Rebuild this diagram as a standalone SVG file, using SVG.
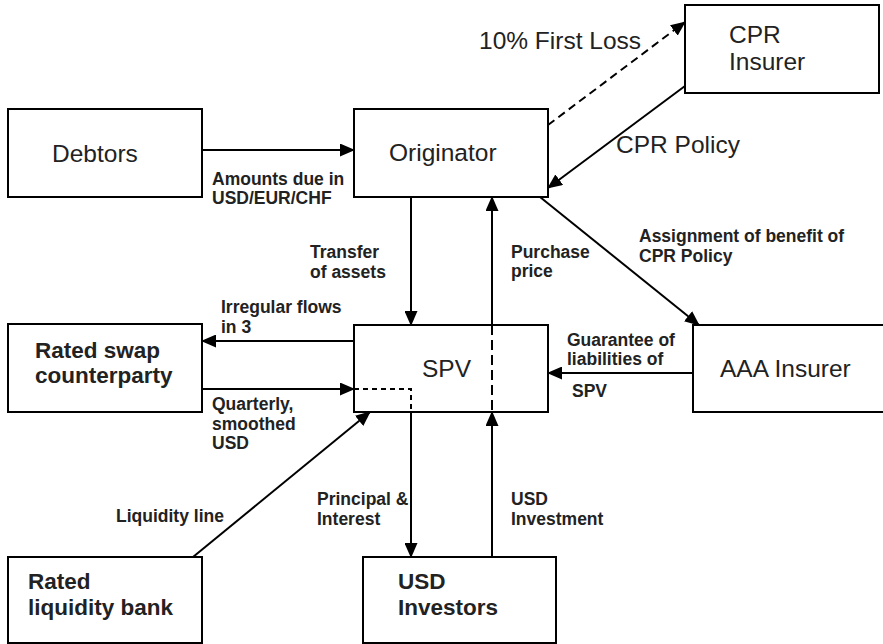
<svg xmlns="http://www.w3.org/2000/svg" width="883" height="644" viewBox="0 0 883 644">
<defs>
<marker id="ah" markerUnits="userSpaceOnUse" markerWidth="15" markerHeight="13" refX="14" refY="6.5" orient="auto">
<path d="M0,0 L15,6.5 L0,13 z" fill="#000"/>
</marker>
<style>
.box{fill:#fff;stroke:#000;stroke-width:2}
.c{fill:none;stroke:#000;stroke-width:2}
.d{fill:none;stroke:#000;stroke-width:2;stroke-dasharray:8 5}
.t{font-family:"Liberation Sans",Arial,sans-serif;font-size:24.5px;fill:#222}
.b{font-family:"Liberation Sans",Arial,sans-serif;font-size:17.5px;font-weight:bold;fill:#222}
.nb{font-family:"Liberation Sans",Arial,sans-serif;font-size:22.5px;font-weight:bold;fill:#222}
</style>
</defs>
<rect width="883" height="644" fill="#fff"/>
<g id="connectors">
<line class="c" x1="202" y1="150" x2="354" y2="150" marker-end="url(#ah)"/>
<line class="d" x1="548" y1="125" x2="685" y2="22" marker-end="url(#ah)"/>
<line class="c" x1="685" y1="86" x2="548" y2="188" marker-end="url(#ah)"/>
<line class="c" x1="411" y1="197" x2="411" y2="325" marker-end="url(#ah)"/>
<line class="c" x1="492" y1="325" x2="492" y2="197" marker-end="url(#ah)"/>
<line class="c" x1="540" y1="197" x2="699" y2="325" marker-end="url(#ah)"/>
<line class="c" x1="354" y1="341" x2="202" y2="341" marker-end="url(#ah)"/>
<line class="c" x1="202" y1="389" x2="354" y2="389" marker-end="url(#ah)"/>
<line class="c" x1="693" y1="373" x2="548" y2="373" marker-end="url(#ah)"/>
<line class="c" x1="193" y1="557" x2="370" y2="412" marker-end="url(#ah)"/>
<line class="c" x1="411" y1="412" x2="411" y2="557" marker-end="url(#ah)"/>
<line class="c" x1="492" y1="557" x2="492" y2="412" marker-end="url(#ah)"/>
</g>
<g id="debtors">
<rect class="box" x="8" y="109" width="194" height="88"/>
<text class="t" x="52" y="162">Debtors</text>
</g>
<g id="originator">
<rect class="box" x="354" y="109" width="194" height="88"/>
<text class="t" x="389" y="161">Originator</text>
</g>
<g id="cpr-insurer">
<rect class="box" x="685" y="5" width="194" height="88"/>
<text class="t" x="729" y="43">CPR</text>
<text class="t" x="729" y="70">Insurer</text>
</g>
<g id="spv">
<rect class="box" x="354" y="325" width="194" height="87"/>
<text class="t" x="422" y="377">SPV</text>
<path d="M354,389 H411 V412" fill="none" stroke="#000" stroke-width="2" stroke-dasharray="5 4"/>
<line x1="492" y1="325" x2="492" y2="412" stroke="#000" stroke-width="2" stroke-dasharray="10 5"/>
</g>
<g id="swap">
<rect class="box" x="8" y="324" width="194" height="88"/>
<text class="nb" x="35" y="358">Rated swap</text>
<text class="nb" x="35" y="383">counterparty</text>
</g>
<g id="aaa">
<rect class="box" x="693" y="325" width="220" height="87"/>
<text class="t" x="720" y="377">AAA Insurer</text>
</g>
<g id="liquidity-bank">
<rect class="box" x="8" y="557" width="194" height="86"/>
<text class="nb" x="28" y="589">Rated</text>
<text class="nb" x="28" y="615">liquidity bank</text>
</g>
<g id="usd-investors">
<rect class="box" x="363" y="557" width="193" height="86"/>
<text class="nb" x="398" y="589">USD</text>
<text class="nb" x="398" y="615">Investors</text>
</g>
<g id="labels">
<text class="t" x="479" y="49">10% First Loss</text>
<text class="t" x="616" y="153">CPR Policy</text>
<text class="b" x="212" y="185">Amounts due in</text>
<text class="b" x="212" y="204">USD/EUR/CHF</text>
<text class="b" x="310" y="258">Transfer</text>
<text class="b" x="310" y="278">of assets</text>
<text class="b" x="511" y="258">Purchase</text>
<text class="b" x="511" y="277">price</text>
<text class="b" x="639" y="242">Assignment of benefit of</text>
<text class="b" x="639" y="262">CPR Policy</text>
<text class="b" x="221" y="313">Irregular flows</text>
<text class="b" x="221" y="333">in 3</text>
<text class="b" x="567" y="346">Guarantee of</text>
<text class="b" x="567" y="365">liabilities of</text>
<text class="b" x="572" y="397">SPV</text>
<text class="b" x="212" y="410">Quarterly,</text>
<text class="b" x="212" y="430">smoothed</text>
<text class="b" x="212" y="449">USD</text>
<text class="b" x="116" y="522">Liquidity line</text>
<text class="b" x="317" y="505">Principal &amp;</text>
<text class="b" x="317" y="525">Interest</text>
<text class="b" x="511" y="505">USD</text>
<text class="b" x="511" y="525">Investment</text>
</g>
</svg>
